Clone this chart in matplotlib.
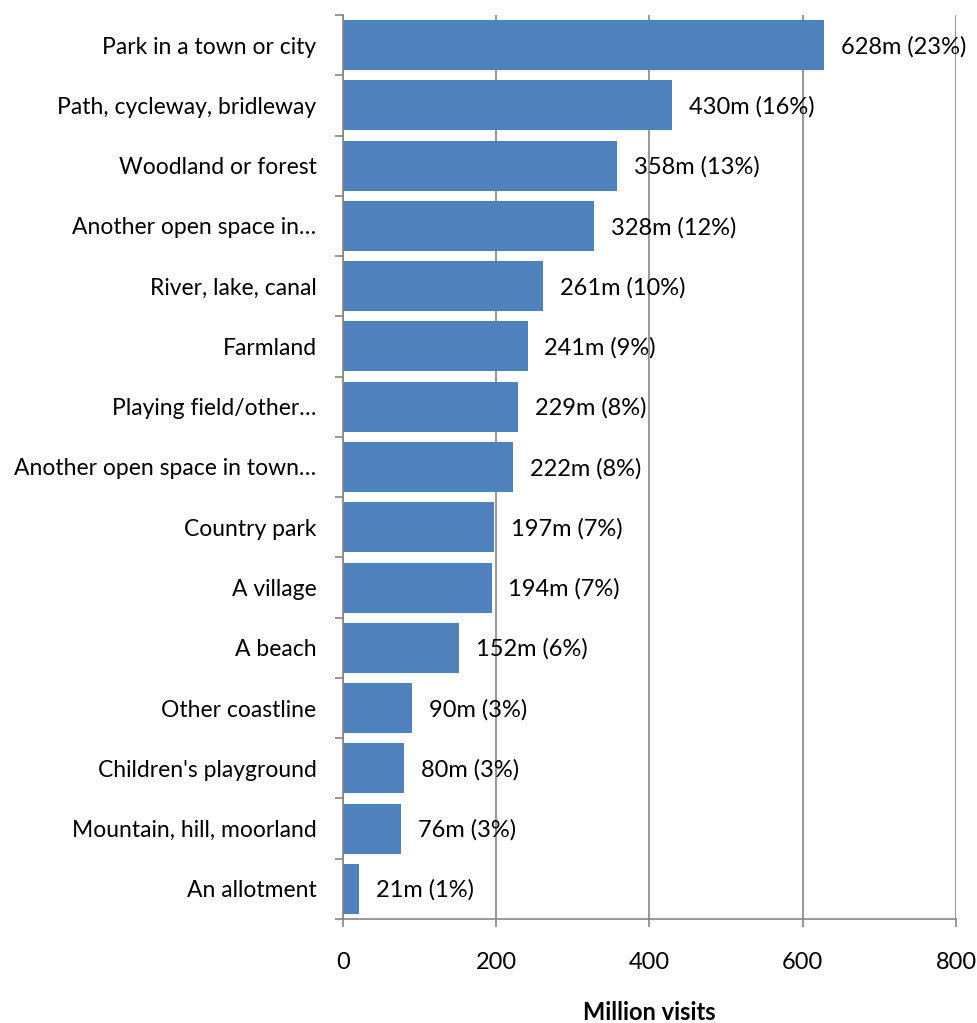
import numpy as np
import matplotlib.pyplot as plt

plt.rcParams['font.family'] = ['Lato', 'DejaVu Sans']

places = ["Park in a town or city", "Path, cycleway, bridleway", "Woodland or forest",
          "Another open space in…", "River, lake, canal", "Farmland",
          "Playing field/other…", "Another open space in town…", "Country park",
          "A village", "A beach", "Other coastline", "Children's playground",
          "Mountain, hill, moorland", "An allotment"]
visits = [628, 430, 358, 328, 261, 241, 229, 222, 197, 194, 152, 90, 80, 76, 21]
shares = [23, 16, 13, 12, 10, 9, 8, 8, 7, 7, 6, 3, 3, 3, 1]

fig = plt.figure(figsize=(9.78, 10.23), dpi=100)
ax = fig.add_axes([0.3507, 0.1017, 0.6268, 0.8836])

y = np.arange(len(places))
ax.barh(y, visits, height=0.83, color='#4F81BD', zorder=2)
for yi, v, s in zip(y, visits, shares):
    ax.annotate(f"{v}m ({s}%)", (v, yi), xytext=(12, -1), textcoords='offset points',
                ha='left', va='center', fontsize=17, zorder=3)

ax.set_ylim(len(places) - 0.5, -0.5)
ax.set_xlim(0, 800)
ax.set_xticks([0, 200, 400, 600, 800])
ax.set_yticks(y)
ax.set_yticklabels(places, fontsize=16.5)
ax.set_yticks(np.arange(len(places) + 1) - 0.5, minor=True)
ax.tick_params(axis='y', which='major', length=0, pad=19)
ax.tick_params(axis='y', which='minor', length=6, width=1.2, color='#868686', direction='out')
ax.tick_params(axis='x', length=6, width=1.2, color='#868686', labelsize=17, pad=18)
ax.grid(axis='x', color='#868686', linewidth=1.2, zorder=0)
for side in ['top', 'right']:
    ax.spines[side].set_visible(False)
for side in ['left', 'bottom']:
    ax.spines[side].set_color('#868686')
    ax.spines[side].set_linewidth(1.2)
ax.set_xlabel("Million visits", fontsize=17, fontweight='bold', labelpad=20)

fig.savefig("out.png", dpi=100)
